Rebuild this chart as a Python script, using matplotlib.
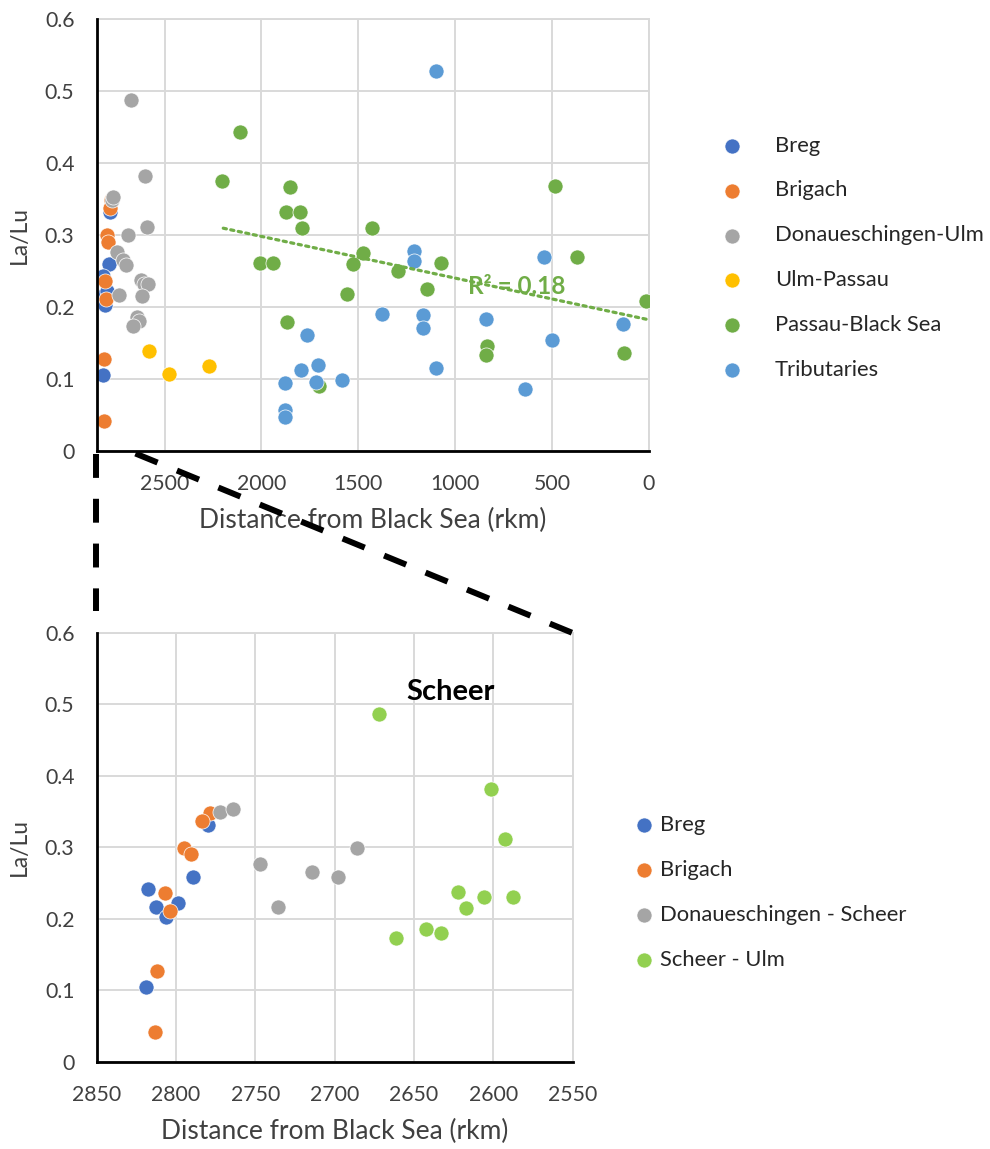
import matplotlib
matplotlib.use("Agg")
import matplotlib.pyplot as plt
import numpy as np
from matplotlib.lines import Line2D

plt.rcParams['font.family'] = ['Lato', 'DejaVu Sans']

# ---------------- data ----------------
breg_x = [2779.6, 2789.0, 2817.4, 2812.6, 2798.9, 2806.3, 2818.9]
breg_y = [0.331, 0.259, 0.242, 0.216, 0.222, 0.202, 0.105]

brigach_x = [2778.5, 2783.4, 2794.7, 2790.7, 2806.9, 2803.8, 2811.8, 2813.2]
brigach_y = [0.348, 0.337, 0.299, 0.290, 0.236, 0.211, 0.127, 0.041]

donau_scheer_x = [2772.2, 2764.2, 2747.0, 2735.8, 2714.0, 2698.0, 2686.0]
donau_scheer_y = [0.349, 0.353, 0.276, 0.216, 0.265, 0.258, 0.299]

scheer_ulm_x = [2671.9, 2601.4, 2592.4, 2622.5, 2605.6, 2587.8, 2617.0, 2642.7, 2633.0, 2661.4]
scheer_ulm_y = [0.487, 0.382, 0.311, 0.237, 0.231, 0.231, 0.215, 0.186, 0.180, 0.173]

ulm_passau_x = [2581, 2476, 2272]
ulm_passau_y = [0.139, 0.106, 0.117]

passau_x = [2112, 2203, 1854, 1873, 1803, 1789, 1429, 2005, 1940, 1476, 1529, 1557,
            1868, 1703, 1297, 1074, 1146, 486, 373, 15, 837, 842, 129]
passau_y = [0.443, 0.375, 0.367, 0.331, 0.331, 0.309, 0.309, 0.261, 0.261, 0.274, 0.259, 0.217,
            0.178, 0.090, 0.249, 0.261, 0.224, 0.368, 0.269, 0.208, 0.145, 0.133, 0.135]

trib_x = [1378, 1763, 1795, 1710, 1716, 1880, 1584, 1880, 1880, 1100, 1215, 1215,
          1166, 1166, 1100, 842, 540, 500, 638, 136]
trib_y = [0.190, 0.160, 0.112, 0.119, 0.095, 0.094, 0.098, 0.057, 0.047, 0.527, 0.278, 0.263,
          0.189, 0.170, 0.115, 0.183, 0.269, 0.154, 0.085, 0.176]

donau_ulm_x = donau_scheer_x + scheer_ulm_x
donau_ulm_y = donau_scheer_y + scheer_ulm_y

top_labels = ["Breg", "Brigach", "Donaueschingen-Ulm", "Ulm-Passau", "Passau-Black Sea", "Tributaries"]
bottom_labels = ["Breg", "Brigach", "Donaueschingen - Scheer", "Scheer - Ulm"]

y_ticks = [0, 0.1, 0.2, 0.3, 0.4, 0.5, 0.6]
y_ticklabels = ["0", "0.1", "0.2", "0.3", "0.4", "0.5", "0.6"]
top_xticks = [2500, 2000, 1500, 1000, 500, 0]
bottom_xticks = [2850, 2800, 2750, 2700, 2650, 2600, 2550]
r2_text = "R² = 0.18"

# ---------------- style ----------------
C_BREG = "#4472C4"
C_BRIG = "#ED7D31"
C_GREY = "#A5A5A5"
C_YEL = "#FFC000"
C_GRN = "#70AD47"
C_TRIB = "#5B9BD5"
C_LGRN = "#92D050"
TXT = "#404040"
GRID = "#D9D9D9"
MS = 118
LEG_FS = 15.8

W, H = 990, 1149
fig = plt.figure(figsize=(W / 100, H / 100), dpi=100)

ax1 = fig.add_axes([96.7 / W, 1 - 450.5 / H, (649 - 96.7) / W, (450.5 - 19) / H])
ax2 = fig.add_axes([96.7 / W, 1 - 1061.5 / H, (572.7 - 96.7) / W, (1061.5 - 633) / H])


def style_axes(ax, xlim, xticks):
    ax.set_xlim(*xlim)
    ax.set_ylim(0, 0.6)
    ax.set_xticks(xticks)
    ax.set_xticklabels([str(t) for t in xticks])
    ax.set_yticks(y_ticks)
    ax.set_yticklabels(y_ticklabels)
    ax.set_axisbelow(True)
    ax.grid(True, color=GRID, lw=1.4)
    for s in ("top", "right"):
        ax.spines[s].set_color(GRID)
        ax.spines[s].set_linewidth(1.4)
    for s in ("left", "bottom"):
        ax.spines[s].set_color("black")
        ax.spines[s].set_linewidth(2.0)
        ax.spines[s].set_zorder(5)
    ax.tick_params(length=0, labelsize=15.3, labelcolor=TXT)
    ax.tick_params(axis="x", pad=17)
    ax.tick_params(axis="y", pad=16)
    ax.set_xlabel("Distance from Black Sea (rkm)", fontsize=19, color=TXT, labelpad=10)
    ax.set_ylabel("La/Lu", fontsize=16.5, color=TXT, labelpad=11)


# ---------------- top chart ----------------
kw = dict(s=MS, edgecolors="white", linewidths=0.5, zorder=3)
h = []
h.append(ax1.scatter(breg_x, breg_y, color=C_BREG, **kw))
h.append(ax1.scatter(brigach_x, brigach_y, color=C_BRIG, **kw))
h.append(ax1.scatter(donau_ulm_x, donau_ulm_y, color=C_GREY, **kw))
h.append(ax1.scatter(ulm_passau_x, ulm_passau_y, color=C_YEL, **kw))
h.append(ax1.scatter(passau_x, passau_y, color=C_GRN, **kw))
h.append(ax1.scatter(trib_x, trib_y, color=C_TRIB, **kw))

# linear trendline for Passau-Black Sea
coef = np.polyfit(passau_x, passau_y, 1)
tx = np.array([min(passau_x), max(passau_x)])
ax1.plot(tx, np.polyval(coef, tx), color=C_GRN, lw=2.3, linestyle=(0, (1, 1.4)),
         dash_capstyle="round", zorder=4)
ax1.text(517 / W, 1 - 286 / H, r2_text, transform=fig.transFigure, color=C_GRN,
         fontsize=17.5, fontweight="bold", ha="center", va="center", zorder=6)

style_axes(ax1, (2850, 0), top_xticks)

fs_px = LEG_FS * 100 / 72
leg1 = fig.legend(h, top_labels, loc="upper left",
                  bbox_to_anchor=((732 - fs_px / 2) / W, 1 - 135.5 / H),
                  frameon=False, fontsize=LEG_FS, handlelength=1.0,
                  handletextpad=(775 - 732 - fs_px / 2) / fs_px,
                  labelspacing=1.135, borderpad=0, borderaxespad=0, scatterpoints=1)
for t in leg1.get_texts():
    t.set_color("#262626")

# ---------------- bottom chart ----------------
h2 = []
h2.append(ax2.scatter(breg_x, breg_y, color=C_BREG, **kw))
h2.append(ax2.scatter(brigach_x, brigach_y, color=C_BRIG, **kw))
h2.append(ax2.scatter(donau_scheer_x, donau_scheer_y, color=C_GREY, **kw))
h2.append(ax2.scatter(scheer_ulm_x, scheer_ulm_y, color=C_LGRN, **kw))
style_axes(ax2, (2850, 2550), bottom_xticks)
ax2.text(451 / W, 1 - 692 / H, "Scheer", transform=fig.transFigure, color="black",
         fontsize=21, fontweight="bold", ha="center", va="center")

leg2 = fig.legend(h2, bottom_labels, loc="upper left",
                  bbox_to_anchor=((644 - fs_px / 2) / W, 1 - 815 / H),
                  frameon=False, fontsize=LEG_FS, handlelength=1.0,
                  handletextpad=(660 - 644 - fs_px / 2) / fs_px,
                  labelspacing=1.14, borderpad=0, borderaxespad=0, scatterpoints=1)
for t in leg2.get_texts():
    t.set_color("#262626")

# ---------------- zoom connector lines ----------------
fig.canvas.draw()
inv = fig.transFigure.inverted()


def fig_pt(ax, xy, dx=0, dy=0):
    px, py = ax.transData.transform(xy)
    return inv.transform((px + dx, py + dy))


dash = dict(color="black", lw=4.3, linestyle=(0, (4, 3.5)), solid_capstyle="butt",
            dash_capstyle="butt", transform=fig.transFigure, zorder=10)
a = fig_pt(ax1, (2850, 0), dx=-1, dy=-3)
b = fig_pt(ax2, (2850, 0.6), dx=-1, dy=22)
fig.add_artist(Line2D([a[0], b[0]], [a[1], b[1]], **dash))
a = fig_pt(ax1, (2650, 0), dy=-3)
b = fig_pt(ax2, (2550, 0.6))
fig.add_artist(Line2D([a[0], b[0]], [a[1], b[1]], **dash))

fig.savefig("out.png", dpi=100)
